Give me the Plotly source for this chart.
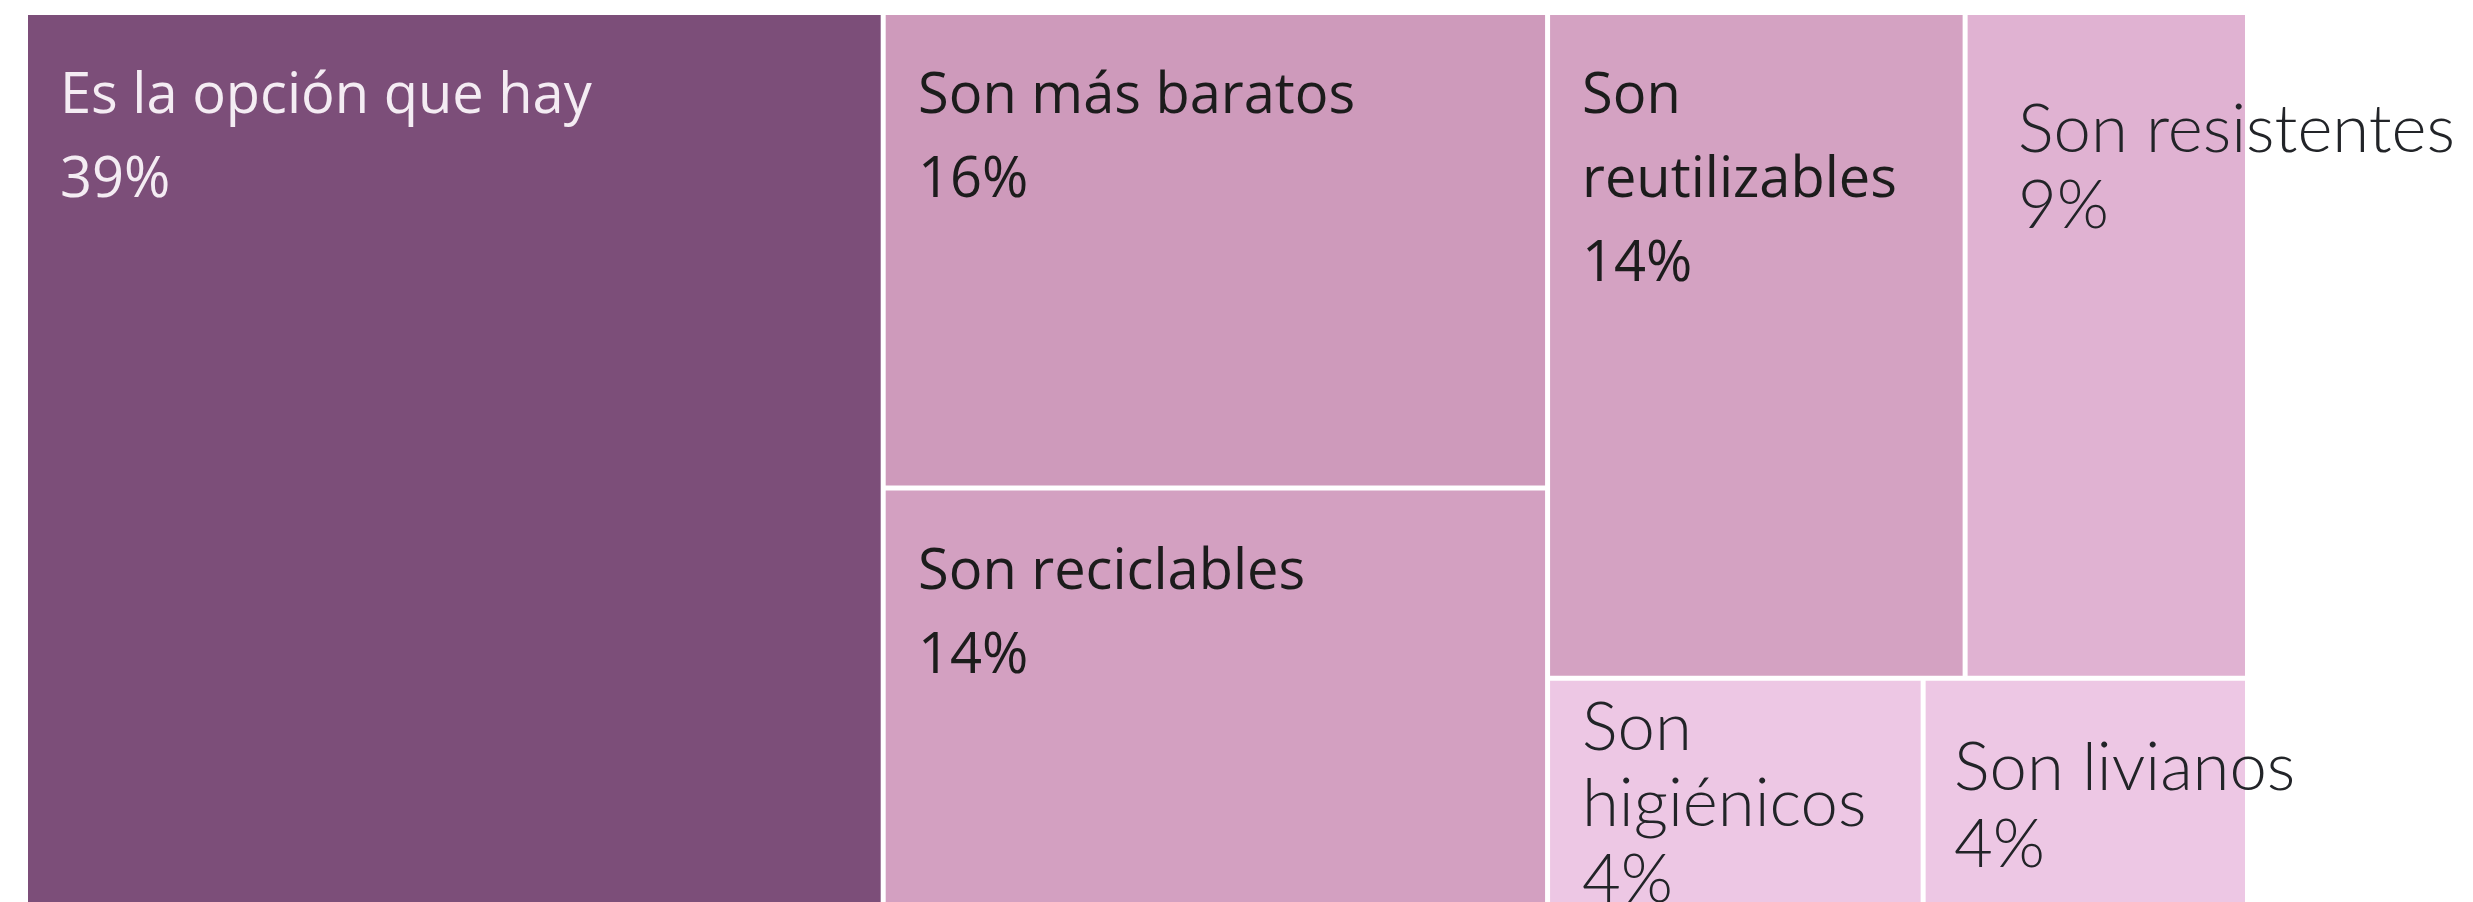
import plotly.graph_objects as go

# ---------------- data ----------------
labels = ["Es la opción que hay", "Son más baratos", "Son reciclables",
          "Son reutilizables", "Son resistentes", "Son higiénicos", "Son livianos"]
values = [38.6, 15.8, 14.1, 13.9, 9.4, 4.4, 3.8]

# ---------------- style ----------------
colors = ["#7C4E79", "#CE9ABB", "#D3A0C1", "#D4A2C2", "#E0B2D2", "#EDC7E4", "#EDC7E4"]
text_colors = ["#F4ECF3", "#1C1C1C", "#1C1C1C", "#1C1C1C", "#222428", "#222428", "#222428"]
fonts = ["Open Sans"] * 4 + ["Lato"] * 3
font_weights = [400, 400, 400, 400, 300, 300, 300]
font_sizes = [56, 56, 56, 56, 67, 67, 67]
line_gaps = [84, 84, 84, 84, 76, 76, 77]
wrap = [False, False, False, True, False, True, False]
off_x = [34, 34, 34, 34, 53, 34, 31]      # text inset from tile's left edge (px)
off_y = [57, 57, 57, 57, 88, 20, 60]      # cap-top inset from tile's top edge (px)
cap_top = {"Open Sans": 0.355, "Lato": 0.27}

W_FIG, H_FIG = 2473, 902
M_L, M_R, M_T, M_B = 20, 236, 7, 0
GAP = 5
PHI = (1 + 5 ** 0.5) / 2

fig = go.Figure(go.Treemap(
    labels=labels,
    parents=[""] * len(labels),
    values=values,
    sort=True,
    marker=dict(colors=colors, line=dict(width=0),
                pad=dict(t=0, l=0, r=0, b=0)),
    tiling=dict(packing="squarify", squarifyratio=PHI, pad=GAP),
    pathbar=dict(visible=False),
    textinfo="none",
    hoverinfo="label+value",
))


# replicate the squarified tiling to anchor the labels on the tiles
def squarify(vals, x0, y0, x1, y1, ratio):
    rects = [None] * len(vals)
    value = float(sum(vals))
    i0, n = 0, len(vals)
    while i0 < n:
        dx, dy = x1 - x0, y1 - y0
        i1 = i0
        s = vals[i1]
        i1 += 1
        mn = mx = s
        alpha = max(dy / dx, dx / dy) / (value * ratio)
        beta = s * s * alpha
        min_r = max(mx / beta, beta / mn)
        while i1 < n:
            v = vals[i1]
            s2 = s + v
            mn2, mx2 = min(mn, v), max(mx, v)
            beta = s2 * s2 * alpha
            r = max(mx2 / beta, beta / mn2)
            if r > min_r:
                break
            s, mn, mx, min_r = s2, mn2, mx2, r
            i1 += 1
        row = list(range(i0, i1))
        if dx < dy:
            yb = y0 + dy * s / value
            cx = x0
            for i in row:
                w = (x1 - x0) * vals[i] / s
                rects[i] = (cx, y0, cx + w, yb)
                cx += w
            y0 = yb
        else:
            xr = x0 + dx * s / value
            cy = y0
            for i in row:
                h = (y1 - y0) * vals[i] / s
                rects[i] = (x0, cy, xr, cy + h)
                cy += h
            x0 = xr
        value -= s
        i0 = i1
    return rects


PW = W_FIG - M_L - M_R
PH = H_FIG - M_T - M_B
q = GAP / 2
order = sorted(range(len(values)), key=lambda i: -values[i])
sq = squarify([values[i] for i in order], -q, -q, PW + q, PH + q, PHI)
rects = [None] * len(values)
for k, i in enumerate(order):
    a, b, c, d = sq[k]
    rects[i] = (a + q, b + q, c - q, d - q)

annotations = []
for i, lab in enumerate(labels):
    x0, y0, x1, y1 = rects[i]
    if wrap[i]:
        first, rest = lab.split(" ", 1)
        lines = [first, rest]
    else:
        lines = [lab]
    lines.append(f"{round(values[i])}%")
    S = font_sizes[i]
    for j, line in enumerate(lines):
        cap_y = y0 + off_y[i] + j * line_gaps[i]
        top_y = cap_y - cap_top[fonts[i]] * S - 1
        left_x = x0 + off_x[i] - 1 - 0.05 * S
        annotations.append(dict(
            x=left_x / PW, y=1 - top_y / PH, xref="paper", yref="paper",
            xanchor="left", yanchor="top", showarrow=False, text=line,
            font=dict(family=fonts[i], size=S, color=text_colors[i],
                      weight=font_weights[i]),
        ))

fig.update_layout(
    width=W_FIG, height=H_FIG,
    margin=dict(l=M_L, r=M_R, t=M_T, b=M_B, pad=0),
    paper_bgcolor="white",
    showlegend=False,
    annotations=annotations,
)

fig.write_html("out.html")
